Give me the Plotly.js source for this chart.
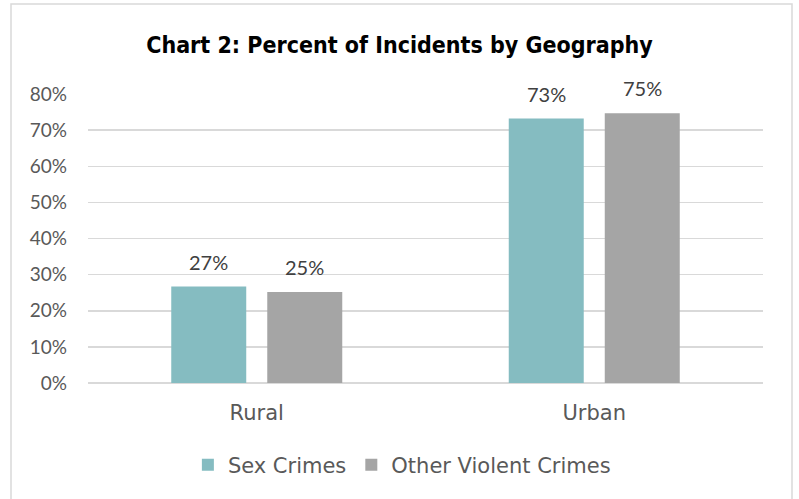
<!DOCTYPE html>
<html>
<head>
<meta charset="utf-8">
<script src="https://cdn.plot.ly/plotly-3.0.1.min.js"></script>
<style>
html,body{margin:0;padding:0;background:#fff;}
#chart{width:799px;height:499px;}
#chart .gtitle{font-stretch:condensed;}
</style>
</head>
<body>
<div id="chart"></div>
<script>
const categories = ["Rural", "Urban"];
const seriesNames = ["Sex Crimes", "Other Violent Crimes"];
const sexCrimes = [26.7, 73.2];
const otherViolent = [25.2, 74.7];
const tickValues = [0, 10, 20, 30, 40, 50, 60, 70, 80];
const tickLabels = ["0%", "10%", "20%", "30%", "40%", "50%", "60%", "70%", "80%"];

const labelFont = {family: "Lato, 'Open Sans', sans-serif", size: 20, color: "#404040"};
const series = [sexCrimes, otherViolent];
const colors = ["#85BCC1", "#A5A5A5"];
const slotShift = [-48, 48];

const traces = series.map((vals, i) => ({
  type: "bar", name: seriesNames[i], x: categories, y: vals,
  marker: {color: colors[i]}, hoverinfo: "skip"
}));

const annotations = [];
series.forEach((vals, i) => {
  vals.forEach((v, j) => {
    annotations.push({x: categories[j], y: v, xref: "x", yref: "y",
      text: Math.round(v) + "%", showarrow: false, font: labelFont,
      xanchor: "center", yanchor: "middle", xshift: slotShift[i], yshift: 25});
  });
});

const layout = {
  width: 799, height: 499,
  margin: {l: 88, r: 36, t: 94, b: 116},
  paper_bgcolor: "#fff", plot_bgcolor: "#fff",
  title: {text: "Chart 2: Percent of Incidents by Geography",
          font: {family: "'DejaVu Sans Condensed', 'DejaVu Sans', sans-serif", size: 23, color: "#000", weight: "bold"},
          x: 0.5, xanchor: "center", y: 0.91, yanchor: "middle"},
  barmode: "group", bargap: 0.431, bargroupgap: 0.219,
  xaxis: {type: "category", showgrid: false, zeroline: false, showline: false, ticks: "",
          ticklabelstandoff: 15,
          tickfont: {family: "'DejaVu Sans', Verdana, sans-serif", size: 21, color: "#595959"}},
  yaxis: {range: [0, 80], tickvals: tickValues, ticktext: tickLabels, showgrid: true,
          gridcolor: "#D9D9D9", gridwidth: 1.5, zeroline: true, zerolinecolor: "#D9D9D9", zerolinewidth: 1.5,
          showline: false, ticks: "", ticklabelstandoff: 20,
          tickfont: {family: "Lato, 'Open Sans', sans-serif", size: 19, color: "#595959"}},
  showlegend: true,
  legend: {orientation: "h", x: 0.465, xanchor: "center", y: -0.284, yanchor: "middle",
           font: {family: "'DejaVu Sans', Verdana, sans-serif", size: 21, color: "#595959"},
           itemwidth: 30, traceorder: "normal"},
  annotations: annotations,
  shapes: [{type: "rect", xref: "paper", yref: "paper",
            x0: (11 - 88) / 675, x1: (792 - 88) / 675, y0: (383 - 503) / 289, y1: (383 - 4) / 289,
            line: {color: "#D9D9D9", width: 1.5}, fillcolor: "rgba(0,0,0,0)", layer: "below"}]
};

Plotly.newPlot("chart", traces, layout, {staticPlot: true, displayModeBar: false});
</script>
</body>
</html>
